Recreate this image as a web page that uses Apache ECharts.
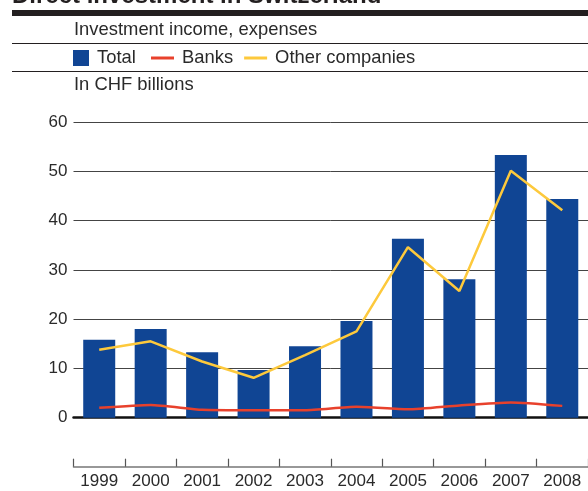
<!DOCTYPE html>
<html>
<head>
<meta charset="utf-8">
<script src="https://cdn.jsdelivr.net/npm/echarts@6/dist/echarts.min.js"></script>
<style>html,body{margin:0;padding:0;background:#fff}#c{width:588px;height:491px}</style>
</head>
<body>
<div id="c"></div>
<script>
const years = ['1999','2000','2001','2002','2003','2004','2005','2006','2007','2008'];
const total = [15.8, 18.0, 13.3, 9.7, 14.5, 19.6, 36.3, 28.1, 53.3, 44.4];
const banks = [2.0, 2.6, 1.6, 1.5, 1.5, 2.2, 1.7, 2.5, 3.1, 2.4];
const otherCompanies = [13.8, 15.5, 11.4, 8.1, 12.7, 17.5, 34.6, 25.7, 50.1, 42.1];
const yTicks = [0, 10, 20, 30, 40, 50, 60];

const FONT = '"Liberation Sans", Arial, sans-serif';
const TXT = '#2a2a2a';
const HF = 18.4;
const chart = echarts.init(document.getElementById('c'), null, {renderer: 'canvas'});
chart.setOption({
  animation: false,
  textStyle: {fontFamily: FONT},
  graphic: [
    {type: 'text', x: 12, y: -4, z: 10, style: {text: 'Direct investment in Switzerland', font: 'bold 24px ' + FONT, fill: '#231f20', verticalAlign: 'middle', align: 'left'}},
    {type: 'rect', shape: {x: 12, y: 10, width: 576, height: 6}, style: {fill: '#231f20'}},
    {type: 'line', shape: {x1: 12, y1: 43.5, x2: 588, y2: 43.5}, style: {stroke: '#231f20', lineWidth: 1}},
    {type: 'line', shape: {x1: 12, y1: 71.5, x2: 588, y2: 71.5}, style: {stroke: '#231f20', lineWidth: 1}},
    {type: 'text', left: 74, top: 21, style: {text: 'Investment income, expenses', font: HF + 'px ' + FONT, fill: TXT}},
    {type: 'text', left: 74, top: 76, style: {text: 'In CHF billions', font: HF + 'px ' + FONT, fill: TXT}}
  ],
  legend: [
    {data: ['Total'], left: 68, top: 44, itemWidth: 16, itemHeight: 16, icon: 'rect',
     textStyle: {fontSize: HF, color: TXT, fontFamily: FONT, padding: [0, 0, 0, 3]}},
    {data: ['Banks', 'Other companies'], left: 146, top: 44, itemWidth: 23, itemHeight: 3, icon: 'rect', itemGap: 11,
     textStyle: {fontSize: HF, color: TXT, fontFamily: FONT, padding: [0, 0, 0, 3]}}
  ],
  grid: {left: 73.5, top: 122, width: 521, height: 295.7, containLabel: false},
  xAxis: [
    {type: 'category', data: years, position: 'bottom', offset: 49,
     axisLine: {show: true, onZero: false, lineStyle: {color: '#777', width: 1.5}},
     axisTick: {show: true, inside: true, length: 8, alignWithLabel: false, interval: 0, lineStyle: {color: '#555', width: 1.2}},
     axisLabel: {fontSize: 17, color: TXT, margin: 6, fontFamily: FONT}},
    {type: 'category', data: years, position: 'bottom', offset: 0,
     axisLine: {show: true, onZero: false, lineStyle: {color: '#111', width: 2.5}},
     axisTick: {show: false}, axisLabel: {show: false}}
  ],
  yAxis: {type: 'value', min: yTicks[0], max: yTicks[yTicks.length - 1], interval: 10,
    axisLine: {show: false}, axisTick: {show: false},
    axisLabel: {fontSize: 17, color: TXT, margin: 6, fontFamily: FONT},
    splitLine: {lineStyle: {color: '#444', width: 1}}},
  series: [
    {name: 'Total', type: 'bar', data: total, barWidth: 32, itemStyle: {color: '#104594'}, z: 2},
    {name: 'Banks', type: 'line', data: banks, symbol: 'none', smooth: 0.2, lineStyle: {color: '#e8412c', width: 2.5}, itemStyle: {color: '#e8412c'}, z: 4},
    {name: 'Other companies', type: 'line', data: otherCompanies, symbol: 'none', lineStyle: {color: '#fdc93c', width: 2.5}, itemStyle: {color: '#fdc93c'}, z: 5}
  ]
});
</script>
</body>
</html>
